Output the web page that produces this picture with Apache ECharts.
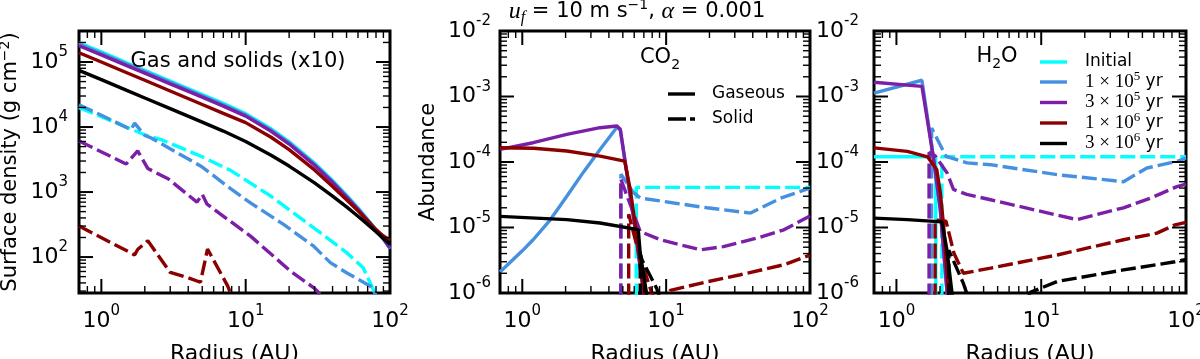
<!DOCTYPE html>
<html><head><meta charset="utf-8">
<script src="https://cdn.jsdelivr.net/npm/echarts@6/dist/echarts.min.js"></script>
<style>html,body{margin:0;padding:0;background:#fff}#c{width:1200px;height:359px}</style>
</head><body><div id="c"></div><script>
// ---------- axis ranges & ticks ----------
const X_MIN = 0.7, X_MAX = 100;
const Y1_MIN = 28, Y1_MAX = 3e5;
const Y2_MIN = 1e-6, Y2_MAX = 1e-2;
const X_TICKS_MAJOR = [1, 10, 100];
const X_TICKS_MINOR = [0.8, 0.9, 2, 3, 4, 5, 6, 7, 8, 9, 20, 30, 40, 50, 60, 70, 80, 90];
const Y1_TICKS_MAJOR = [100, 1000, 10000, 100000];
const Y1_TICKS_MINOR = [30, 40, 50, 60, 70, 80, 90, 200, 300, 400, 500, 600, 700, 800, 900,
  2000, 3000, 4000, 5000, 6000, 7000, 8000, 9000, 20000, 30000, 40000, 50000, 60000, 70000, 80000, 90000, 200000, 300000];
const Y2_TICKS_MAJOR = [1e-6, 1e-5, 1e-4, 1e-3, 1e-2];
const Y2_TICKS_MINOR = [2e-6, 3e-6, 4e-6, 5e-6, 6e-6, 7e-6, 8e-6, 9e-6, 2e-5, 3e-5, 4e-5, 5e-5, 6e-5, 7e-5, 8e-5, 9e-5,
  2e-4, 3e-4, 4e-4, 5e-4, 6e-4, 7e-4, 8e-4, 9e-4, 2e-3, 3e-3, 4e-3, 5e-3, 6e-3, 7e-3, 8e-3, 9e-3];

const TIME_LABELS = [['Initial'], ['1', '5'], ['3', '5'], ['1', '6'], ['3', '6']];

// ---------- panel 1 : surface density (gas solid, solids x10 dashed) ----------
const SURF_X = [0.7, 1, 1.5, 2, 3, 5, 7, 10, 15, 20, 30, 40, 50, 60, 70, 80, 90, 100];
const SURF_GAS_INIT = [1.98e5, 1.43e5, 9.75e4, 7.45e4, 5.1e4, 3.17e4, 2.31e4, 1.61e4, 9.4e3, 5.97e3, 2.8e3, 1.51e3, 893, 570, 381, 264, 193, 135];
const SURF_GAS_1E5  = [1.88e5, 1.36e5, 9.3e4, 7.1e4, 4.86e4, 3.02e4, 2.2e4, 1.54e4, 9.0e3, 5.72e3, 2.69e3, 1.45e3, 865, 555, 373, 260, 191, 136];
const SURF_GAS_3E5  = [1.78e5, 1.29e5, 8.8e4, 6.75e4, 4.62e4, 2.88e4, 2.1e4, 1.47e4, 8.6e3, 5.48e3, 2.58e3, 1.4e3, 835, 540, 365, 256, 190, 138];
const SURF_GAS_1E6  = [1.39e5, 1.0e5, 6.85e4, 5.24e4, 3.59e4, 2.22e4, 1.62e4, 1.17e4, 6.96e3, 4.5e3, 2.19e3, 1.22e3, 762, 513, 361, 264, 211, 180];
const SURF_GAS_3E6  = [7.43e4, 5.37e4, 3.66e4, 2.8e4, 1.92e4, 1.19e4, 8.67e3, 5.98e3, 3.69e3, 2.51e3, 1.38e3, 865, 590, 425, 318, 245, 193, 157];
const SURF_SOL_INIT = [[0.7,1.99e4],[1,1.44e4],[2,7.6e3],[2.6,6.4e3],[4.9,3.55e3],[7.9,2.14e3],[15,861],[33,235],[50,117],[65,69],[77,31],[82,22]];
const SURF_SOL_1E5  = [[0.7,2.2e4],[1,1.52e4],[1.61,9.1e3],[1.7,1.15e4],[2.0,7.4e3],[2.21,6.8e3],[4.9,2.5e3],[7.9,1.12e3],[10.8,680],[18.4,316],[29.6,147],[38.6,82],[50.3,57],[72.8,36],[80,26]];
const SURF_SOL_3E5  = [[0.7,6.1e3],[1.485,2.7e3],[1.785,4.3e3],[2.1,2.3e3],[2.9,1.6e3],[4.6,700],[5.0,920],[5.4,650],[10.8,210],[20.4,61],[30,33],[34,25]];
const SURF_SOL_1E6  = [[0.7,300],[1.7,108],[1.79,132],[2.1,178],[3.0,58],[4.0,48],[4.86,41],[5.44,133],[7.5,36],[7.9,27]];

// ---------- panel 2 : CO2 abundance ----------
const CO2_GAS_1E5 = [[0.7,2.1e-6],[1.0,4.4e-6],[1.19,6.5e-6],[1.56,1.3e-5],[2.04,3.0e-5],[2.66,7e-5],[3.47,1.55e-4],[4.55,3.4e-4],[4.8,3.1e-4],[5.2,9.7e-5],[6.0,1.2e-5],[6.97,1e-6],[7.2,5e-7]];
const CO2_GAS_3E5 = [[0.7,1.56e-4],[1.19,1.97e-4],[2.04,2.64e-4],[3.47,3.34e-4],[4.55,3.54e-4],[4.8,3.16e-4],[5.2,9.7e-5],[6.0,1.2e-5],[6.97,1e-6],[7.2,5e-7]];
const CO2_GAS_1E6 = [[0.7,1.65e-4],[1.2,1.62e-4],[2.04,1.47e-4],[3.47,1.23e-4],[5.15,1.03e-4],[5.63,3.8e-5],[6.27,7.3e-6],[6.97,1.2e-6],[7.2,6e-7]];
const CO2_GAS_3E6 = [[0.7,1.48e-5],[2.04,1.32e-5],[3.47,1.17e-5],[6.4,9.3e-6],[6.6,4.1e-6],[7.3,1e-6],[7.5,6e-7]];
const CO2_SOL_INIT = [[6.2,1e-7],[6.2,4.1e-5],[100,4.1e-5]];
const CO2_SOL_1E5  = [[4.85,1e-7],[4.85,6.5e-5],[5.93,3.4e-5],[6.6,2.82e-5],[11.3,2.37e-5],[19.2,2e-5],[38.6,1.66e-5],[62.4,2.8e-5],[100,4.0e-5]];
const CO2_SOL_3E5  = [[4.84,1e-7],[4.84,5.5e-5],[5.3,3.2e-5],[5.93,1.66e-5],[6.6,8.7e-6],[9.1,6.5e-6],[17.3,4.57e-6],[25,5.1e-6],[43,6.9e-6],[65.8,9.2e-6],[100,1.5e-5]];
const CO2_SOL_1E6  = [[5.49,1e-7],[5.49,1.6e-5],[6.3,5e-6],[7.55,1.4e-6],[8.4,7e-7],[9.8,7e-7],[10.7,1.1e-6],[19.2,1.48e-6],[32.8,1.9e-6],[65.8,2.7e-6],[100,3.8e-6]];
const CO2_SOL_3E6  = [[6.6,1e-7],[6.6,4e-6],[6.8,3.2e-6],[8.6,1.17e-6],[9.5,6e-7]];

// ---------- panel 3 : H2O abundance ----------
const H2O_GAS_INIT = [[0.7,1.2e-4],[1.87,1.2e-4],[1.87,1e-7]];
const H2O_GAS_1E5 = [[0.7,1.13e-3],[1.5,1.77e-3],[1.81,1.08e-4],[2.01,1.86e-5],[2.24,1e-6],[2.3,6e-7]];
const H2O_GAS_3E5 = [[0.7,1.65e-3],[1.5,1.43e-3],[1.81,1.08e-4],[2.01,1.86e-5],[2.24,1e-6],[2.3,6e-7]];
const H2O_GAS_1E6 = [[0.7,1.64e-4],[1.19,1.45e-4],[1.64,1.2e-4],[1.9,7.6e-5],[2.01,3.4e-5],[2.12,1.04e-5],[2.29,1e-6],[2.35,6e-7]];
const H2O_GAS_3E6 = [[0.7,1.39e-5],[1.19,1.32e-5],[2.06,1.22e-5],[2.23,4.6e-6],[2.42,1e-6],[2.47,6e-7]];
const H2O_SOL_INIT = [[2.06,1e-7],[2.06,1.2e-4],[100,1.2e-4]];
const H2O_SOL_1E5  = [[1.75,1e-7],[1.75,3.3e-4],[2.2,1.22e-4],[3.08,9.7e-5],[4.47,9.1e-5],[12.9,6.4e-5],[37,5e-5],[53.7,8.1e-5],[86.5,1.02e-4],[100,1.15e-4]];
const H2O_SOL_3E5  = [[1.68,1e-7],[1.68,1.4e-4],[1.85,1.25e-4],[2.24,6.8e-5],[2.48,3.8e-5],[3.06,3.2e-5],[4.47,2.65e-5],[17.6,1.32e-5],[37,2e-5],[56.6,2.8e-5],[86.5,4.2e-5],[100,4.6e-5]];
const H2O_SOL_1E6  = [[1.85,1e-7],[1.85,1.3e-5],[2.2,1.25e-5],[2.5,4e-6],[2.9,2e-6],[4.47,2.4e-6],[12.9,3.8e-6],[37,6.5e-6],[63,8.2e-6],[84,1.1e-5],[100,1.2e-5]];
const H2O_SOL_3E6  = [[2.3,1e-7],[2.3,4.5e-6],[2.9,1.4e-6],[3.4,5e-7],[7.4,5e-7],[8.4,1.02e-6],[12.9,1.5e-6],[37,2.25e-6],[84,3e-6],[100,3.25e-6]];

// ---------- styles ----------
const FONT = "'DejaVu Sans', sans-serif";
const SERIF = "'Liberation Serif', 'DejaVu Serif', serif";
const COLORS = ['#00ffff', '#4690e0', '#7a1fa6', '#8b0000', '#000000'];
const DASH = [15, 5];
const LW = 3.4;

function powLabel(v) {
  const l = Math.log10(v), e = Math.round(l);
  if (Math.abs(l - e) > 1e-6) return '';
  return '10{s|' + e + '}';
}
const LABEL = {
  color: '#000', fontFamily: FONT, fontSize: 22, lineHeight: 34, formatter: powLabel,
  rich: { s: { color: '#000', fontFamily: FONT, fontSize: 15, lineHeight: 15, verticalAlign: 'top' } }
};
const GRIDS = [
  { left: 79, top: 31, width: 311, height: 262 },
  { left: 500, top: 31, width: 310, height: 262 },
  { left: 874, top: 31, width: 312, height: 262 }
];
const Y_RANGES = [[Y1_MIN, Y1_MAX], [Y2_MIN, Y2_MAX], [Y2_MIN, Y2_MAX]];

function xAxis(gi) {
  return {
    type: 'log', logBase: 10, gridIndex: gi, min: X_MIN, max: X_MAX,
    axisLine: { show: false }, axisTick: { show: false }, splitLine: { show: false },
    axisLabel: Object.assign({ margin: 11 }, LABEL),
    name: 'Radius (AU)', nameLocation: 'middle', nameGap: 45,
    nameTextStyle: { color: '#000', fontFamily: FONT, fontSize: 22 }
  };
}
function yAxis(gi, name, gap, margin) {
  const r = Y_RANGES[gi];
  return {
    type: 'log', logBase: 10, gridIndex: gi, min: r[0], max: r[1],
    axisLine: { show: false }, axisTick: { show: false }, splitLine: { show: false },
    axisLabel: Object.assign({ margin: margin }, LABEL),
    name: name, nameLocation: 'middle', nameGap: gap, nameRotate: 90,
    nameTextStyle: { color: '#000', fontFamily: FONT, fontSize: 21, lineHeight: 26,
      rich: { s: { color: '#000', fontFamily: FONT, fontSize: 14, lineHeight: 14, verticalAlign: 'top' } } }
  };
}
function line(gi, data, ci, dashed) {
  return {
    type: 'line', xAxisIndex: gi, yAxisIndex: gi, data: data, symbol: 'none', showSymbol: false,
    lineStyle: { color: COLORS[ci], width: LW, type: dashed ? DASH : 'solid', cap: 'butt' },
    itemStyle: { color: COLORS[ci] }, silent: true, clip: true, z: 2
  };
}
const pairs = ys => SURF_X.map((x, i) => [x, ys[i]]);
function xTicks(gi, vals, major) {
  const r = Y_RANGES[gi];
  const L = major ? 14 : 7, w = major ? 2 : 1.4;
  return {
    type: 'custom', xAxisIndex: gi, yAxisIndex: gi, clip: false, silent: true, z: 6,
    data: vals.map(v => [v, r[0]]),
    renderItem: function (p, api) {
      const v = api.value(0);
      const b = api.coord([v, r[0]]), t = api.coord([v, r[1]]);
      return { type: 'group', children: [
        { type: 'line', shape: { x1: b[0], y1: b[1], x2: b[0], y2: b[1] - L }, style: { stroke: '#000', lineWidth: w } },
        { type: 'line', shape: { x1: t[0], y1: t[1], x2: t[0], y2: t[1] + L }, style: { stroke: '#000', lineWidth: w } }
      ] };
    }
  };
}
function yTicks(gi, vals, major) {
  const L = major ? 14 : 7, w = major ? 2 : 1.4;
  return {
    type: 'custom', xAxisIndex: gi, yAxisIndex: gi, clip: false, silent: true, z: 6,
    data: vals.map(v => [X_MIN, v]),
    renderItem: function (p, api) {
      const v = api.value(1);
      const a = api.coord([X_MIN, v]), b = api.coord([X_MAX, v]);
      return { type: 'group', children: [
        { type: 'line', shape: { x1: a[0], y1: a[1], x2: a[0] + L, y2: a[1] }, style: { stroke: '#000', lineWidth: w } },
        { type: 'line', shape: { x1: b[0], y1: b[1], x2: b[0] - L, y2: b[1] }, style: { stroke: '#000', lineWidth: w } }
      ] };
    }
  };
}

const series = [
  line(0, pairs(SURF_GAS_INIT), 0, false), line(0, SURF_SOL_INIT, 0, true),
  line(0, pairs(SURF_GAS_1E5), 1, false), line(0, SURF_SOL_1E5, 1, true),
  line(0, pairs(SURF_GAS_3E5), 2, false), line(0, SURF_SOL_3E5, 2, true),
  line(0, pairs(SURF_GAS_1E6), 3, false), line(0, SURF_SOL_1E6, 3, true),
  line(0, pairs(SURF_GAS_3E6), 4, false),

  line(1, CO2_SOL_INIT, 0, true),
  line(1, CO2_GAS_1E5, 1, false), line(1, CO2_SOL_1E5, 1, true),
  line(1, CO2_GAS_3E5, 2, false), line(1, CO2_SOL_3E5, 2, true),
  line(1, CO2_GAS_1E6, 3, false), line(1, CO2_SOL_1E6, 3, true),
  line(1, CO2_GAS_3E6, 4, false), line(1, CO2_SOL_3E6, 4, true),

  line(2, H2O_GAS_INIT, 0, false), line(2, H2O_SOL_INIT, 0, true),
  line(2, H2O_GAS_1E5, 1, false), line(2, H2O_SOL_1E5, 1, true),
  line(2, H2O_GAS_3E5, 2, false), line(2, H2O_SOL_3E5, 2, true),
  line(2, H2O_GAS_1E6, 3, false), line(2, H2O_SOL_1E6, 3, true),
  line(2, H2O_GAS_3E6, 4, false), line(2, H2O_SOL_3E6, 4, true)
];
[0, 1, 2].forEach(gi => {
  series.push(xTicks(gi, X_TICKS_MAJOR, true), xTicks(gi, X_TICKS_MINOR, false));
  series.push(yTicks(gi, gi === 0 ? Y1_TICKS_MAJOR : Y2_TICKS_MAJOR, true));
  series.push(yTicks(gi, gi === 0 ? Y1_TICKS_MINOR : Y2_TICKS_MINOR, false));
});

// ---------- texts ----------
const RICH_TXT = {
  n: { fontFamily: FONT, fontSize: 21, lineHeight: 28, fill: '#000' },
  i: { fontFamily: SERIF, fontStyle: 'italic', fontSize: 24, lineHeight: 28, fill: '#000' },
  sb: { fontFamily: SERIF, fontStyle: 'italic', fontSize: 16, lineHeight: 15, verticalAlign: 'bottom', fill: '#000' },
  sp: { fontFamily: FONT, fontSize: 14, lineHeight: 13, verticalAlign: 'top', fill: '#000' },
  d: { fontFamily: FONT, fontSize: 14, lineHeight: 14, verticalAlign: 'bottom', fill: '#000' },
  lg: { fontFamily: FONT, fontSize: 17, lineHeight: 24, fill: '#000' },
  m: { fontFamily: SERIF, fontSize: 19, lineHeight: 24, fill: '#000' },
  e: { fontFamily: SERIF, fontSize: 13, lineHeight: 13, verticalAlign: 'top', fill: '#000' }
};
function txt(x, y, text, align) {
  return { type: 'text', x: x, y: y, z: 20, silent: true,
    style: { text: text, rich: RICH_TXT, align: align || 'center', verticalAlign: 'middle', fill: '#000', font: '20px ' + FONT } };
}
const graphic = [
  txt(637, 12, '{i|u}{sb|f}{n| = 10 m s}{sp|−1}{n|, }{i|α}{n| = 0.001}'),
  txt(238, 62, '{n|Gas and solids (x10)}'),
  txt(660, 58, '{n|CO}{d|2}'),
  txt(997, 57, '{n|H}{d|2}{n|O}'),
  { type: 'line', z: 20, shape: { x1: 668, y1: 94, x2: 695, y2: 94 }, style: { stroke: '#000', lineWidth: LW } },
  { type: 'line', z: 20, shape: { x1: 668, y1: 119, x2: 695, y2: 119 }, style: { stroke: '#000', lineWidth: LW, lineDash: [18, 4] } },
  txt(712, 94, '{lg|Gaseous}', 'left'),
  txt(712, 119, '{lg|Solid}', 'left')
];
const LEG_Y = [62, 82, 102.5, 123, 143.5];
TIME_LABELS.forEach((t, k) => {
  graphic.push({ type: 'line', z: 20, shape: { x1: 1040, y1: LEG_Y[k], x2: 1067, y2: LEG_Y[k] }, style: { stroke: COLORS[k], lineWidth: LW } });
  const s = t.length === 1 ? '{lg|' + t[0] + '}' : '{m|' + t[0] + ' × 10}{e|' + t[1] + '}{lg| yr}';
  graphic.push(txt(1085, LEG_Y[k], s, 'left'));
});

const chart = echarts.init(document.getElementById('c'), null, { renderer: 'canvas' });
chart.setOption({
  animation: false,
  backgroundColor: '#fff',
  grid: GRIDS.map(g => Object.assign({ show: true, borderColor: '#000', borderWidth: 3, backgroundColor: 'transparent',
    containLabel: false, outerBoundsMode: 'none' }, g)),
  xAxis: [xAxis(0), xAxis(1), xAxis(2)],
  yAxis: [yAxis(0, 'Surface density (g cm{s|−2})', 55, 11), yAxis(1, 'Abundance', 58, 9), yAxis(2, '', 50, 15)],
  series: series,
  graphic: graphic
});
</script></body></html>
